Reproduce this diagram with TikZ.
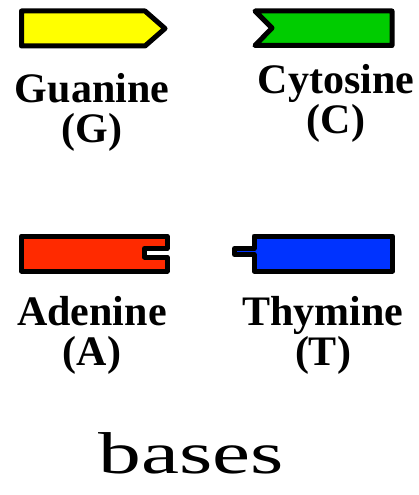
\documentclass[tikz,border=0pt]{standalone}
\usepackage{fontspec}
\setmainfont{Liberation Serif}
\definecolor{gcol}{RGB}{255,255,0}
\definecolor{ccol}{RGB}{0,204,0}
\definecolor{acol}{RGB}{255,42,0}
\definecolor{tcol}{RGB}{0,51,255}
\begin{document}
\begin{tikzpicture}[x=1pt,y=-1pt,
  basebox/.style={draw=black,line width=5pt,line join=round},
  label/.style={anchor=base,inner sep=0pt,font=\fontsize{42}{50}\selectfont\bfseries}]
\useasboundingbox (0,0) rectangle (418,495);
% guanine: arrow-pointed end
\path[basebox,fill=gcol] (21.5,11) -- (145,11) -- (165,28.5) -- (145,46) -- (21.5,46) -- cycle;
% cytosine: notched end
\path[basebox,fill=ccol] (255,11) -- (392,11) -- (392,45.5) -- (255,45.5) -- (272,28) -- cycle;
% adenine: slot on the right
\path[basebox,fill=acol] (21.5,236) -- (167,236) -- (167,248.5) -- (144.5,248.5) -- (144.5,257)
  -- (167,257) -- (167,271) -- (21.5,271) -- cycle;
% thymine: peg on the left
\path[basebox,fill=tcol] (254,236) -- (392.5,236) -- (392.5,271) -- (254,271) -- (254,254.5)
  -- (234.5,254.5) -- (234.5,248.5) -- (254,248.5) -- cycle;
% names
\node[label] (g1) at (92,102) {Guanine};
\node[label] (g2) at (92,142) {(G)};
\node[label] (c1) at (336,93) {Cytosine};
\node[label] (c2) at (336,133) {(C)};
\node[label] (a1) at (92,325) {Adenine};
\node[label] (a2) at (92,365) {(A)};
\node[label] (t1) at (323,325) {Thymine};
\node[label] (t2) at (323,365) {(T)};
\node[anchor=base,inner sep=0pt,font=\fontsize{59}{70}\selectfont,xscale=1.45] (title) at (191,473) {bases};
\end{tikzpicture}
\end{document}
